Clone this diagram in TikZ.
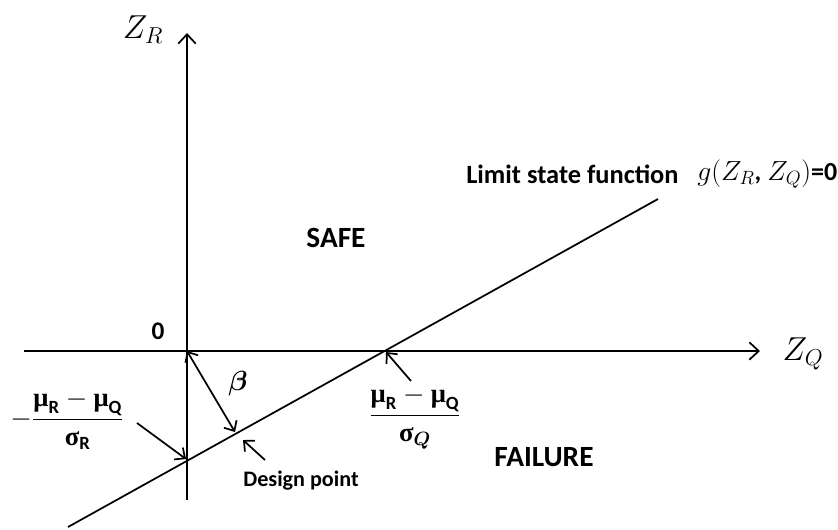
\documentclass[tikz,border=0pt]{standalone}
\usepackage{amsmath}
\usepackage{fontspec}
\setmainfont{Carlito}
\newfontfamily\grkfont{Liberation Serif}
\usetikzlibrary{arrows.meta}
\newcommand{\gmu}{\text{\grkfont\bfseries μ}}
\newcommand{\gsig}{\text{\grkfont\bfseries σ}}

\begin{document}
\begin{tikzpicture}[x=0.75pt,y=-0.75pt, line width=1.3pt,
    axis/.style={-{Straight Barb[length=7pt,width=13pt]}},
    pointer/.style={-{Straight Barb[length=6pt,width=11pt]}},
    region/.style={font=\fontsize{22}{26}\selectfont\bfseries},
    note/.style={font=\fontsize{16.6}{20}\selectfont\bfseries},
    fraclabel/.style={font=\fontsize{20}{24}\selectfont},
    axislabel/.style={font=\fontsize{26}{30}\selectfont}]
    \useasboundingbox (0,0) rectangle (838,529);
    % points on the axes and on the limit state line
    \coordinate (O) at (187,351);
    \coordinate (xl) at (24,351);
    \coordinate (xr) at (760,351);
    \coordinate (yb) at (187,500);
    \coordinate (yt) at (187,33);
    \coordinate (ls0) at (68,527);
    \coordinate (ls1) at (658,199);
    \coordinate (crQ) at (386,352);
    \coordinate (crR) at (186,459);
    \coordinate (dp) at (235,432);
    % axes and limit state line
    \draw[axis] (xl) -- (xr);
    \draw[axis] (yb) -- (yt);
    \draw (ls0) -- (ls1);
    % labels
    \node[axislabel] (zr) at (143,30) {$Z_R$};
    \node[axislabel] (zq) at (803,354) {$Z_Q$};
    \node[font=\fontsize{19}{22}\selectfont\bfseries] (zero) at (158,331) {0};
    \node[region] (safe) at (336,238) {SAFE};
    \node[region] (fail) at (544,457) {FAILURE};
    \node[font=\fontsize{19.8}{24}\selectfont\bfseries, anchor=west] (lsf) at (461,174) {Limit state function};
    \node[anchor=west, font=\fontsize{19.5}{23}\selectfont] (gfun) at (692,174) {$g(Z_R$\textbf{,} $Z_Q)$\textbf{=0}};
    \node[note] (design) at (301,481) {Design point};
    \node[font=\fontsize{22}{26}\selectfont] (beta) at (238,384) {$\boldsymbol{\beta}$};
    \node[fraclabel] (fracR) at (67,420) {$-\dfrac{\gmu_{\mathbf{R}}-\gmu_{\mathbf{Q}}}{\gsig_{\mathbf{R}}}$};
    \node[fraclabel] (fracQ) at (415,418) {$\dfrac{\gmu_{\mathbf{R}}-\gmu_{\mathbf{Q}}}{\gsig_{\boldsymbol{Q}}}$};
    % pointers
    \coordinate (tR) at (137,423);
    \coordinate (tQ) at (411,381);
    \coordinate (tD) at (265,460);
    \coordinate (hD) at (243,440);
    \draw[pointer] (tR) -- (crR);
    \draw[pointer] (tQ) -- (crQ);
    \draw[pointer] (tD) -- (hD);
    \draw[{Straight Barb[length=6pt,width=11pt]}-{Straight Barb[length=6pt,width=11pt]}] (O) -- (dp);
\end{tikzpicture}
\end{document}
